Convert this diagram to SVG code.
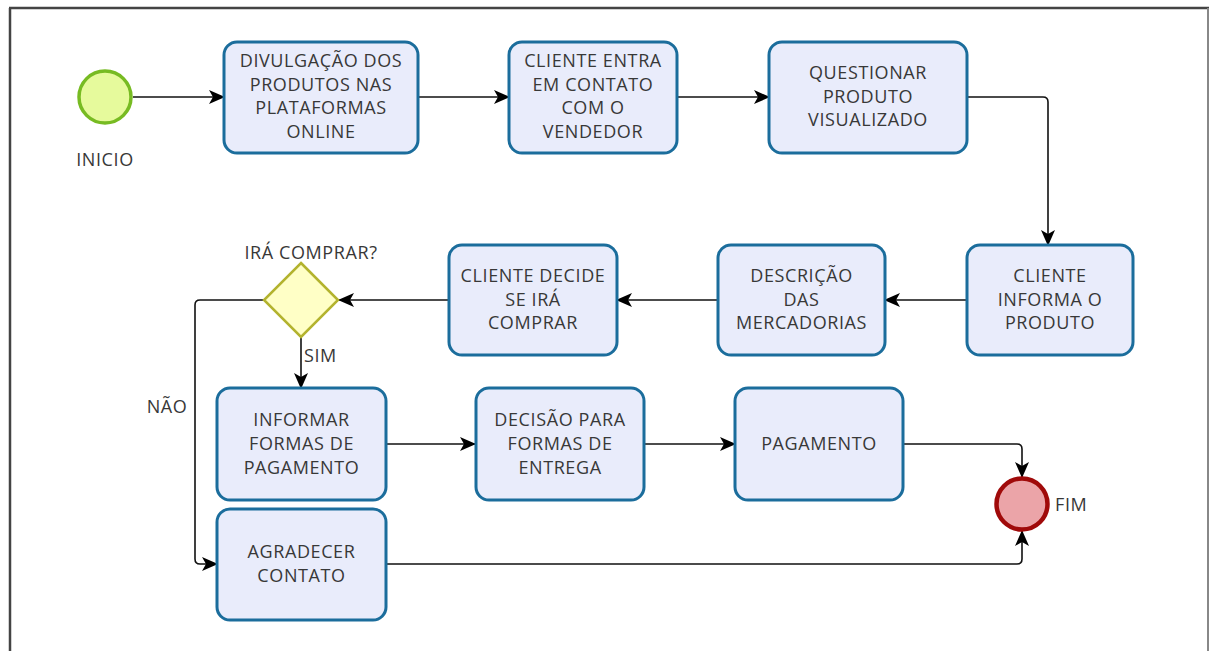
<svg xmlns="http://www.w3.org/2000/svg" width="1210" height="651" viewBox="0 0 1210 651">
<style>
.box{fill:#e9ecfb;stroke:#1b6d9c;stroke-width:3}
.t{font-family:"Open Sans","Liberation Sans",sans-serif;font-size:18px;letter-spacing:0.6px;fill:#383838;text-anchor:middle}
.l{font-family:"Open Sans","Liberation Sans",sans-serif;font-size:18px;letter-spacing:0.6px;fill:#383838}
.c{fill:none;stroke:#111;stroke-width:1.6}
</style>
<defs>
<marker id="ah" viewBox="0 0 16 16" refX="15" refY="8" markerWidth="16" markerHeight="16" markerUnits="userSpaceOnUse" orient="auto">
<path d="M0,1 L16,8 L0,15 L4,8 Z" fill="#000"/>
</marker>
</defs>
<rect x="0" y="0" width="1210" height="651" fill="#fff"/>
<g id="frame">
<line x1="9" y1="8" x2="1209" y2="8" stroke="#444" stroke-width="2.5"/>
<line x1="10" y1="8" x2="10" y2="651" stroke="#444" stroke-width="2.5"/>
<line x1="1208" y1="8" x2="1208" y2="651" stroke="#888" stroke-width="2"/>
</g>
<g id="connectors">
<path class="c" d="M133,97 H224" marker-end="url(#ah)"/>
<path class="c" d="M418,97 H509" marker-end="url(#ah)"/>
<path class="c" d="M677,97 H769" marker-end="url(#ah)"/>
<path class="c" d="M967,97 H1043 Q1048,97 1048,102 V245" marker-end="url(#ah)"/>
<path class="c" d="M967,300 H885" marker-end="url(#ah)"/>
<path class="c" d="M718,300 H617" marker-end="url(#ah)"/>
<path class="c" d="M449,300 H339" marker-end="url(#ah)"/>
<path class="c" d="M301,337 V388" marker-end="url(#ah)"/>
<path class="c" d="M264,300 H200 Q195,300 195,305 V559 Q195,564 200,564 H217" marker-end="url(#ah)"/>
<path class="c" d="M386,444 H475" marker-end="url(#ah)"/>
<path class="c" d="M644,444 H735" marker-end="url(#ah)"/>
<path class="c" d="M903,444 H1017 Q1022,444 1022,449 V477" marker-end="url(#ah)"/>
<path class="c" d="M386,564 H1017 Q1022,564 1022,559 V531" marker-end="url(#ah)"/>
<text class="l" x="304" y="362">SIM</text>
<text class="l" x="167" y="413" text-anchor="middle">NÃO</text>
</g>
<g id="inicio">
<circle cx="105" cy="97" r="26" fill="#e6fa9c" stroke="#77bb22" stroke-width="3.5"/>
<text class="t" x="105" y="166">INICIO</text>
</g>
<g id="divulgacao">
<rect class="box" x="224" y="42" width="194" height="111" rx="13"/>
<text class="t" x="321" y="67">DIVULGAÇÃO DOS</text>
<text class="t" x="321" y="90.5">PRODUTOS NAS</text>
<text class="t" x="321" y="114">PLATAFORMAS</text>
<text class="t" x="321" y="137.5">ONLINE</text>
</g>
<g id="cliente-entra">
<rect class="box" x="509" y="42" width="168" height="111" rx="13"/>
<text class="t" x="593" y="67">CLIENTE ENTRA</text>
<text class="t" x="593" y="90.5">EM CONTATO</text>
<text class="t" x="593" y="114">COM O</text>
<text class="t" x="593" y="137.5">VENDEDOR</text>
</g>
<g id="questionar">
<rect class="box" x="769" y="42" width="198" height="111" rx="13"/>
<text class="t" x="868" y="79">QUESTIONAR</text>
<text class="t" x="868" y="102.5">PRODUTO</text>
<text class="t" x="868" y="126">VISUALIZADO</text>
</g>
<g id="cliente-informa">
<rect class="box" x="967" y="245" width="166" height="110" rx="13"/>
<text class="t" x="1050" y="282">CLIENTE</text>
<text class="t" x="1050" y="305.5">INFORMA O</text>
<text class="t" x="1050" y="329">PRODUTO</text>
</g>
<g id="descricao">
<rect class="box" x="718" y="245" width="167" height="110" rx="13"/>
<text class="t" x="801.5" y="282">DESCRIÇÃO</text>
<text class="t" x="801.5" y="305.5">DAS</text>
<text class="t" x="801.5" y="329">MERCADORIAS</text>
</g>
<g id="cliente-decide">
<rect class="box" x="449" y="245" width="168" height="110" rx="13"/>
<text class="t" x="533" y="282">CLIENTE DECIDE</text>
<text class="t" x="533" y="305.5">SE IRÁ</text>
<text class="t" x="533" y="329">COMPRAR</text>
</g>
<g id="ira-comprar">
<polygon points="301,263 338,300 301,337 264,300" fill="#ffffc6" stroke="#b3b32e" stroke-width="2.5"/>
<text class="t" x="311" y="259">IRÁ COMPRAR?</text>
</g>
<g id="informar">
<rect class="box" x="217" y="388" width="169" height="112" rx="13"/>
<text class="t" x="301.5" y="426">INFORMAR</text>
<text class="t" x="301.5" y="450">FORMAS DE</text>
<text class="t" x="301.5" y="474">PAGAMENTO</text>
</g>
<g id="decisao">
<rect class="box" x="476" y="388" width="168" height="112" rx="13"/>
<text class="t" x="560" y="426">DECISÃO PARA</text>
<text class="t" x="560" y="450">FORMAS DE</text>
<text class="t" x="560" y="474">ENTREGA</text>
</g>
<g id="pagamento">
<rect class="box" x="735" y="388" width="168" height="112" rx="13"/>
<text class="t" x="819" y="450">PAGAMENTO</text>
</g>
<g id="agradecer">
<rect class="box" x="217" y="509" width="169" height="111" rx="13"/>
<text class="t" x="301.5" y="558">AGRADECER</text>
<text class="t" x="301.5" y="582">CONTATO</text>
</g>
<g id="fim">
<circle cx="1022" cy="504" r="25.5" fill="#eba4a8" stroke="#a00a0a" stroke-width="4.5"/>
<text class="l" x="1055" y="511">FIM</text>
</g>
</svg>
